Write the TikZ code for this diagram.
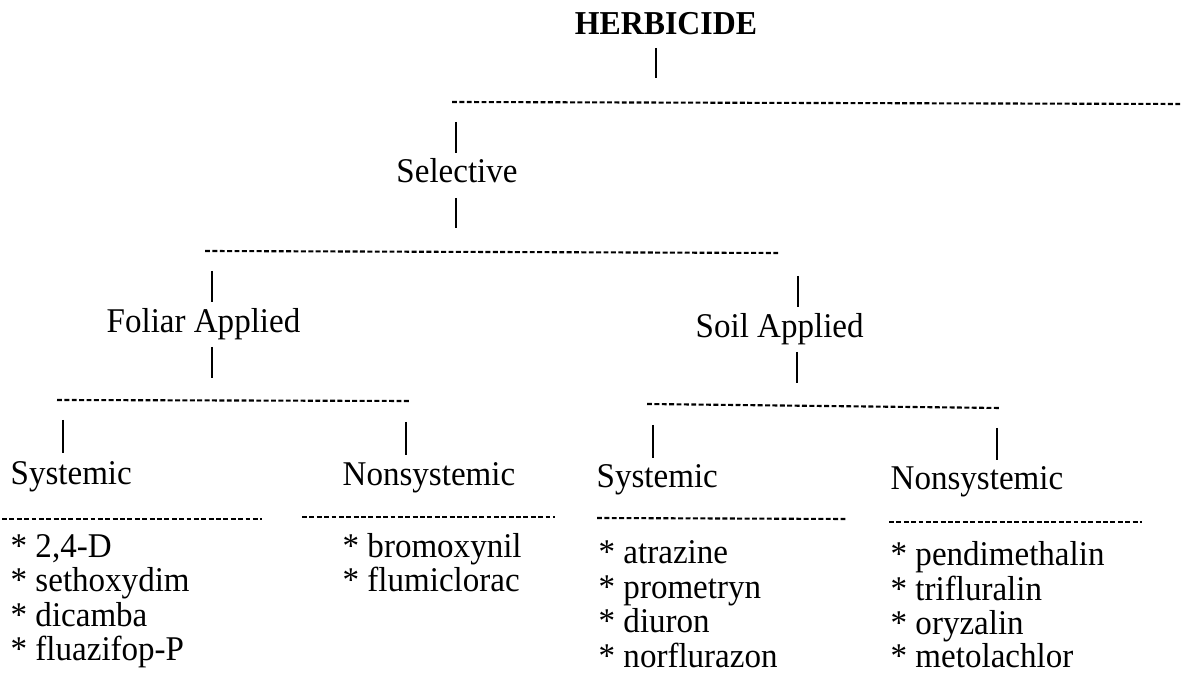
\documentclass[tikz,border=0pt]{standalone}
\usepackage{fontspec}
\setmainfont{Liberation Serif}
\begin{document}
\begin{tikzpicture}[
  lbl/.style = {inner sep = 0pt, anchor = base west, yscale = 1.05, font = \fontsize{9.4}{11}\selectfont},
  bar/.style = {line width = 0.6pt, dash pattern = on 1.4pt off 0.7pt},
  tick/.style = {line width = 0.55pt}]
\useasboundingbox (0,0) rectangle (11.81,-6.85);
\node[lbl, anchor = base, font = \fontsize{9.05}{11}\selectfont\bfseries] (herb) at (6.66,-0.35) {HERBICIDE};
\node[lbl, anchor = base] (sel) at (4.57,-1.83) {Selective};
\node[lbl] (fol) at (1.06,-3.33) {Foliar Applied};
\node[lbl] (soil) at (6.95,-3.38) {Soil Applied};
\node[lbl] (fsys) at (0.10,-4.85) {Systemic};
\node[lbl] (fnon) at (3.42,-4.86) {Nonsystemic};
\node[lbl] (ssys) at (5.96,-4.88) {Systemic};
\node[lbl] (snon) at (8.90,-4.90) {Nonsystemic};
\node[lbl] (fsys1) at (0.10,-5.58) {* 2,4-D};
\node[lbl] (fsys2) at (0.10,-5.92) {* sethoxydim};
\node[lbl] (fsys3) at (0.10,-6.26) {* dicamba};
\node[lbl] (fsys4) at (0.10,-6.60) {* fluazifop-P};
\node[lbl] (fnon1) at (3.42,-5.58) {* bromoxynil};
\node[lbl] (fnon2) at (3.42,-5.92) {* flumiclorac};
\node[lbl] (ssys1) at (5.98,-5.63) {* atrazine};
\node[lbl] (ssys2) at (5.98,-5.98) {* prometryn};
\node[lbl] (ssys3) at (5.98,-6.33) {* diuron};
\node[lbl] (ssys4) at (5.98,-6.67) {* norflurazon};
\node[lbl] (snon1) at (8.90,-5.66) {* pendimethalin};
\node[lbl] (snon2) at (8.90,-6.00) {* trifluralin};
\node[lbl] (snon3) at (8.90,-6.34) {* oryzalin};
\node[lbl] (snon4) at (8.90,-6.68) {* metolachlor};
\coordinate (top l) at (4.52,-1.02);
\coordinate (top r) at (11.81,-1.04);
\coordinate (sel l) at (2.05,-2.51);
\coordinate (sel r) at (7.80,-2.53);
\coordinate (fol l) at (0.57,-4.00);
\coordinate (fol r) at (4.09,-4.01);
\coordinate (soil l) at (6.47,-4.04);
\coordinate (soil r) at (10.00,-4.08);
\draw[bar] (top l) -- (top r);
\draw[bar] (sel l) -- (sel r);
\draw[bar] (fol l) -- (fol r);
\draw[bar] (soil l) -- (soil r);
\draw[bar] (0.02,-5.19) -- (2.62,-5.19);
\draw[bar] (3.02,-5.17) -- (5.55,-5.17);
\draw[bar] (5.97,-5.18) -- (8.47,-5.19);
\draw[bar] (8.89,-5.22) -- (11.42,-5.22);
\foreach \x/\a/\b in {6.56/0.48/0.78, 4.56/1.22/1.53, 4.56/1.98/2.28, 2.12/2.71/3.02,
  2.12/3.47/3.78, 7.98/2.76/3.07, 7.97/3.52/3.83, 0.63/4.20/4.53, 4.06/4.22/4.55,
  6.53/4.25/4.58, 9.97/4.28/4.60}
  \draw[tick] (\x,-\a) -- (\x,-\b);
\end{tikzpicture}
\end{document}
